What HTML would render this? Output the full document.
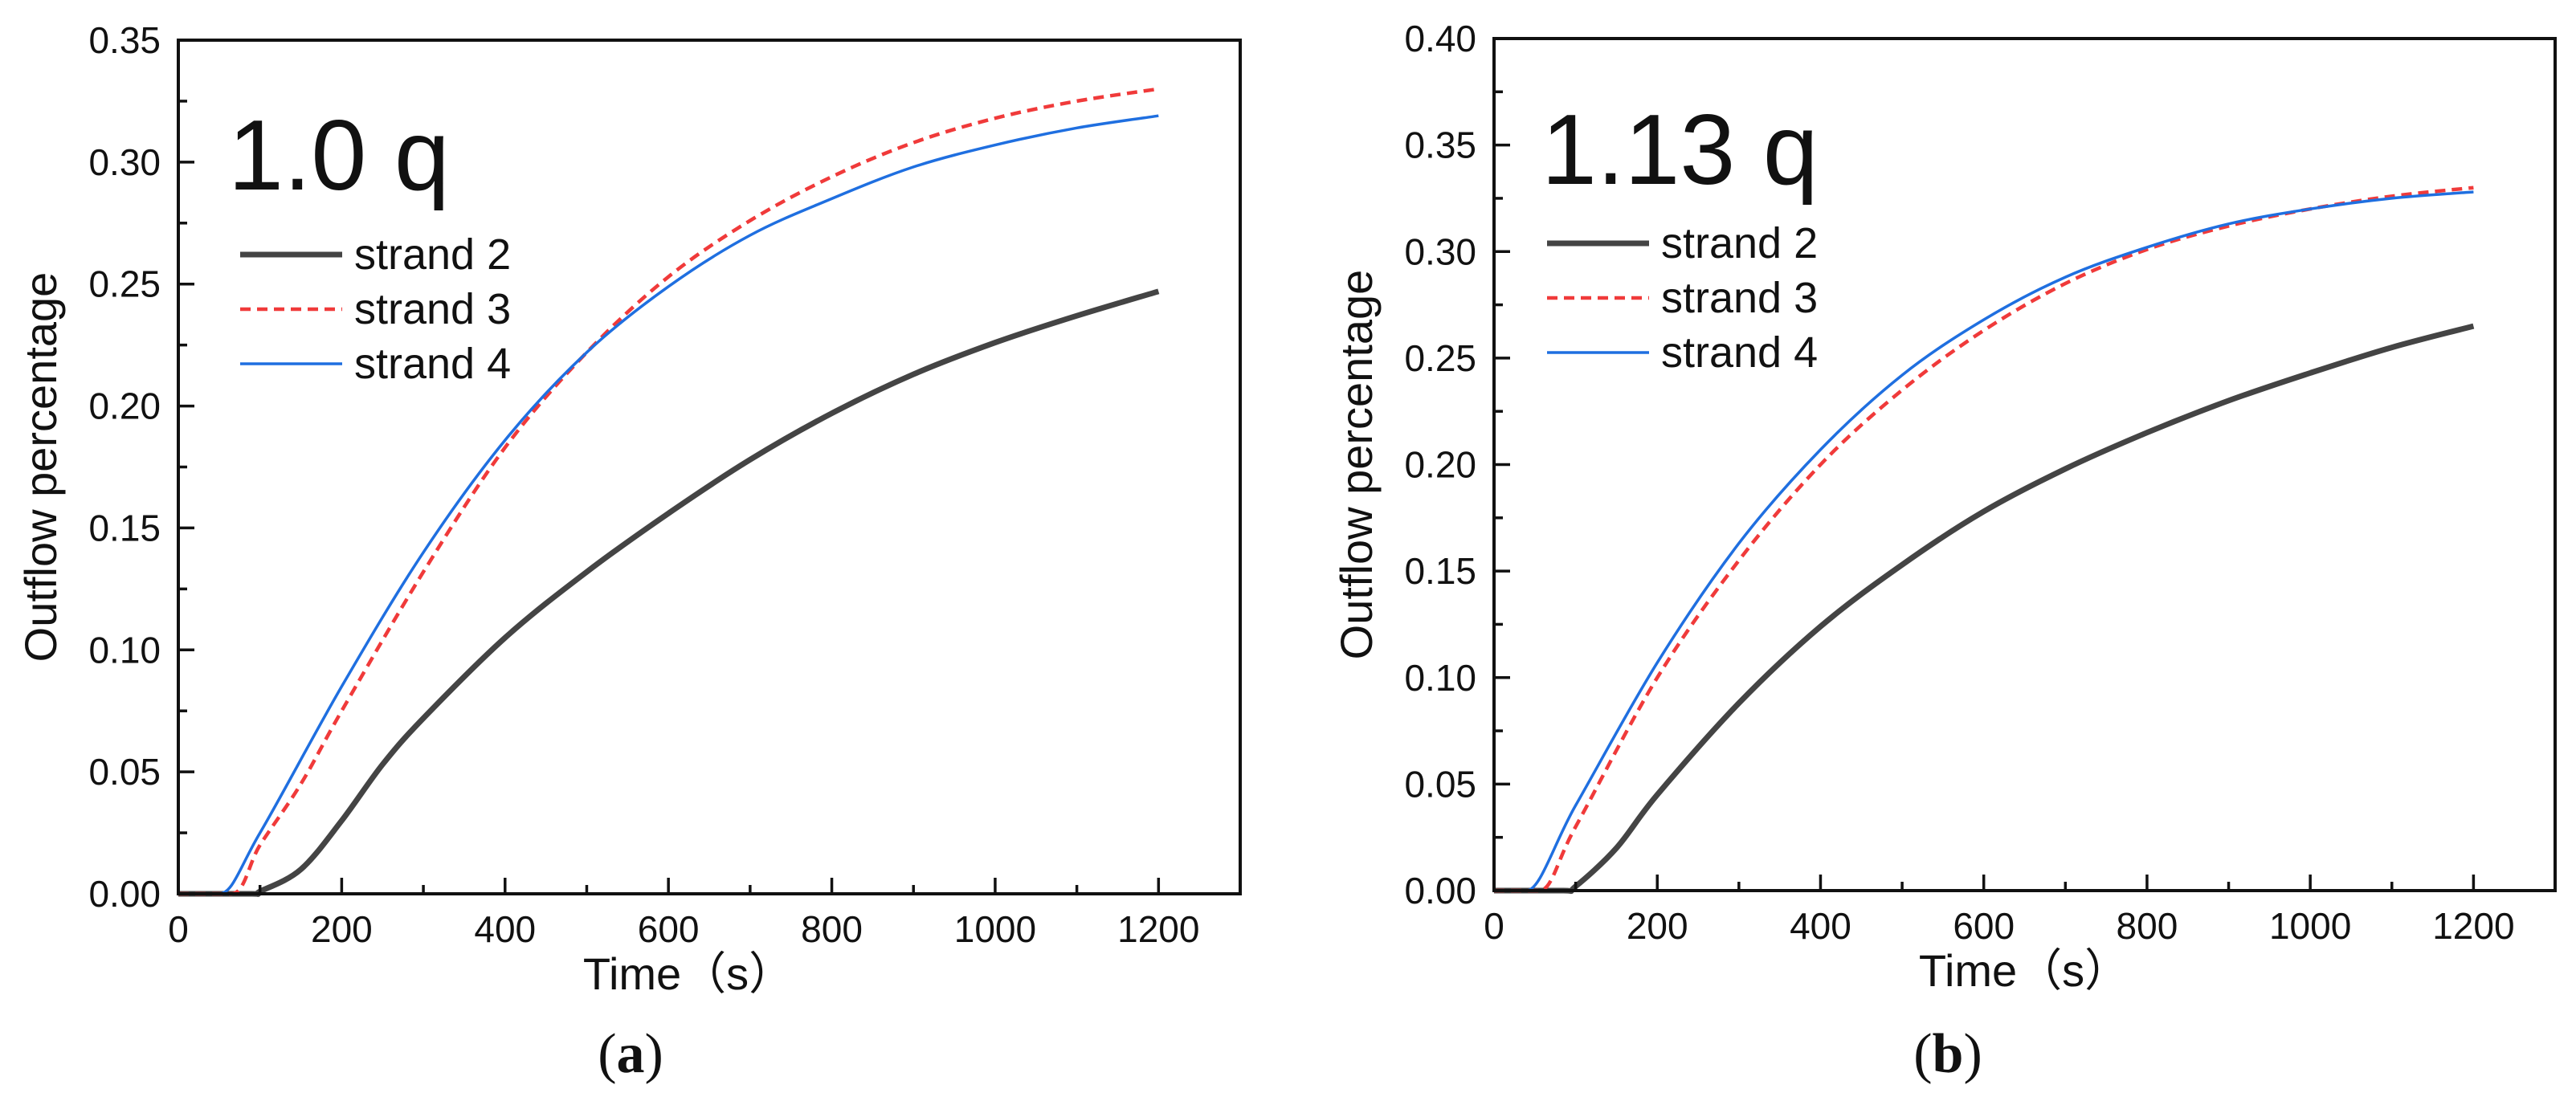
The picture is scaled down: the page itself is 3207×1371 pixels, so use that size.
<!DOCTYPE html>
<html><head><meta charset="utf-8"><style>
body{margin:0;background:#fff}
svg{display:block}
text{font-family:"Liberation Sans","Noto Sans CJK SC",sans-serif;fill:#111}
text.cap{font-family:"Liberation Serif",serif}
</style></head><body>
<svg id="fig" width="3207" height="1371" viewBox="0 0 3207 1371" xmlns="http://www.w3.org/2000/svg"></svg>
<script>
const xTicks=[0,200,400,600,800,1000,1200];
const yTicksA=[0,0.05,0.10,0.15,0.20,0.25,0.30,0.35];
const yTicksB=[0,0.05,0.10,0.15,0.20,0.25,0.30,0.35,0.40];
const timeA2=[0,90,100,150,200,250,300,400,500,600,700,800,900,1000,1100,1200];
const valA2=[0,0,0.001,0.01,0.03,0.053,0.072,0.105,0.132,0.156,0.178,0.197,0.213,0.226,0.237,0.247];
const timeA3=[0,65,100,150,200,300,400,500,600,700,800,900,1000,1100,1200];
const valA3=[0,0,0.02,0.045,0.075,0.132,0.183,0.222,0.253,0.276,0.294,0.308,0.318,0.325,0.330];
const timeA4=[0,50,100,200,300,400,500,600,700,800,900,1000,1100,1200];
const valA4=[0,0,0.025,0.085,0.14,0.186,0.222,0.249,0.27,0.285,0.298,0.307,0.314,0.319];
const timeB2=[0,85,100,150,200,300,400,500,600,700,800,900,1000,1100,1200];
const valB2=[0,0,0.002,0.02,0.045,0.088,0.124,0.153,0.178,0.198,0.215,0.23,0.243,0.255,0.265];
const timeB3=[0,55,100,200,300,400,500,600,700,800,900,1000,1100,1200];
const valB3=[0,0,0.03,0.10,0.155,0.2,0.235,0.263,0.285,0.301,0.312,0.32,0.326,0.33];
const timeB4=[0,40,100,200,300,400,500,600,700,800,900,1000,1100,1200];
const valB4=[0,0,0.04,0.107,0.163,0.207,0.242,0.268,0.288,0.302,0.313,0.32,0.325,0.328];

const NS="http://www.w3.org/2000/svg";
const svg=document.getElementById('fig');
function mk(tag,attrs,parent){const e=document.createElementNS(NS,tag);for(const k in attrs)e.setAttribute(k,attrs[k]);(parent||svg).appendChild(e);return e;}

function smoothPath(pts){
  let d='M'+pts[0][0].toFixed(1)+' '+pts[0][1].toFixed(1);
  for(let i=0;i<pts.length-1;i++){
    const p0=pts[Math.max(0,i-1)],p1=pts[i],p2=pts[i+1],p3=pts[Math.min(pts.length-1,i+2)];
    const t=0.5/3;
    let c1=[p1[0]+(p2[0]-p0[0])*t,p1[1]+(p2[1]-p0[1])*t];
    let c2=[p2[0]-(p3[0]-p1[0])*t,p2[1]-(p3[1]-p1[1])*t];
    // keep flat segments flat
    if(p1[1]===p2[1]){c1[1]=p1[1];c2[1]=p2[1];}
    if(p0[1]===p1[1]) c1[1]=p1[1];
    d+='C'+c1[0].toFixed(1)+' '+c1[1].toFixed(1)+' '+c2[0].toFixed(1)+' '+c2[1].toFixed(1)+' '+p2[0].toFixed(1)+' '+p2[1].toFixed(1);
  }
  return d;
}

function panel(o){
  const g=mk('g',{});
  
  
  const sx=v=>o.x0+(v/1300)*(o.x1-o.x0);
  const sy=v=>o.y1-(v/o.ymax)*(o.y1-o.y0);
  o.series.forEach(s=>{
    const pts=s.t.map((t,i)=>[sx(t),sy(s.v[i])]);
    const p=mk('path',{d:smoothPath(pts),fill:'none',stroke:s.c,'stroke-width':s.w,'stroke-linejoin':'round','stroke-dasharray':s.dash||'none'},g);
    
    
  });
  const f=mk('rect',{x:o.x0,y:o.y0,width:o.x1-o.x0,height:o.y1-o.y0,fill:'none',stroke:'#111','stroke-width':4},g);
  
  
  for(let t=0;t<=1300;t+=100){
    const major=t%200===0;
    mk('line',{x1:sx(t),x2:sx(t),y1:o.y1,y2:o.y1-(major?20:11),stroke:'#111','stroke-width':3.5},g);
  }
  xTicks.forEach(t=>{
    const tx=mk('text',{x:sx(t),y:o.y1+60,'font-size':46,'text-anchor':'middle'},g);
    tx.textContent=String(t);
    
    
  });
  const step=0.025;
  for(let k=0;k*step<=o.ymax+1e-9;k++){
    const v=k*step, major=k%2===0;
    mk('line',{x1:o.x0,x2:o.x0+(major?20:11),y1:sy(v),y2:sy(v),stroke:'#111','stroke-width':3.5},g);
  }
  o.yt.forEach(v=>{
    const tx=mk('text',{x:o.x0-22,y:sy(v)+16,'font-size':46,'text-anchor':'end'},g);
    tx.textContent=v.toFixed(2);
    
    
  });
  const xt=mk('text',{x:o.xtX,y:o.xtY,'font-size':56,'text-anchor':'middle'},g);
  xt.textContent='Time（s）';
  
  
  const yt=mk('text',{x:0,y:0,'font-size':56,'text-anchor':'middle',transform:'translate('+o.ytX+','+((o.y0+o.y1)/2)+') rotate(-90)'},g);
  yt.textContent='Outflow percentage';
  
  
  const bl=mk('text',{x:o.lblX,y:o.lblY,'font-size':124},g);
  bl.textContent=o.label;
  
  
  o.series.forEach((s,i)=>{
    const ly=o.legY+i*68;
    const ln=mk('line',{x1:o.legX,x2:o.legX+127,y1:ly,y2:ly,stroke:s.c,'stroke-width':s.w,'stroke-dasharray':s.dash||'none'},g);
    
    
    const lt=mk('text',{x:o.legX+142,y:ly+18,'font-size':54},g);
    lt.textContent=s.name;
    
    
  });
  const cap=mk('text',{x:o.capX,y:1335,'font-size':70,'text-anchor':'middle','class':'cap'},g);
  cap.innerHTML='(<tspan font-weight="bold">'+o.cap+'</tspan>)';
  
  
}

panel({id:'a',x0:222,x1:1544,y0:50,y1:1113,ymax:0.35,yt:yTicksA,label:'1.0 q',lblX:284,lblY:236,legX:299,legY:317,
  xtX:857,xtY:1232,ytX:70,capX:785,cap:'a',
  series:[{name:'strand 2',t:timeA2,v:valA2,c:'#444',w:7},
          {name:'strand 3',t:timeA3,v:valA3,c:'#f03a3a',w:4.5,dash:'13 8'},
          {name:'strand 4',t:timeA4,v:valA4,c:'#1f6fe0',w:3.5}]});
panel({id:'b',x0:1860,x1:3181,y0:48,y1:1109,ymax:0.40,yt:yTicksB,label:'1.13 q',lblX:1919,lblY:229,legX:1926,legY:303,
  xtX:2520,xtY:1228,ytX:1708,capX:2425,cap:'b',
  series:[{name:'strand 2',t:timeB2,v:valB2,c:'#444',w:7},
          {name:'strand 3',t:timeB3,v:valB3,c:'#f03a3a',w:4.5,dash:'13 8'},
          {name:'strand 4',t:timeB4,v:valB4,c:'#1f6fe0',w:3.5}]});
</script>
</body></html>
